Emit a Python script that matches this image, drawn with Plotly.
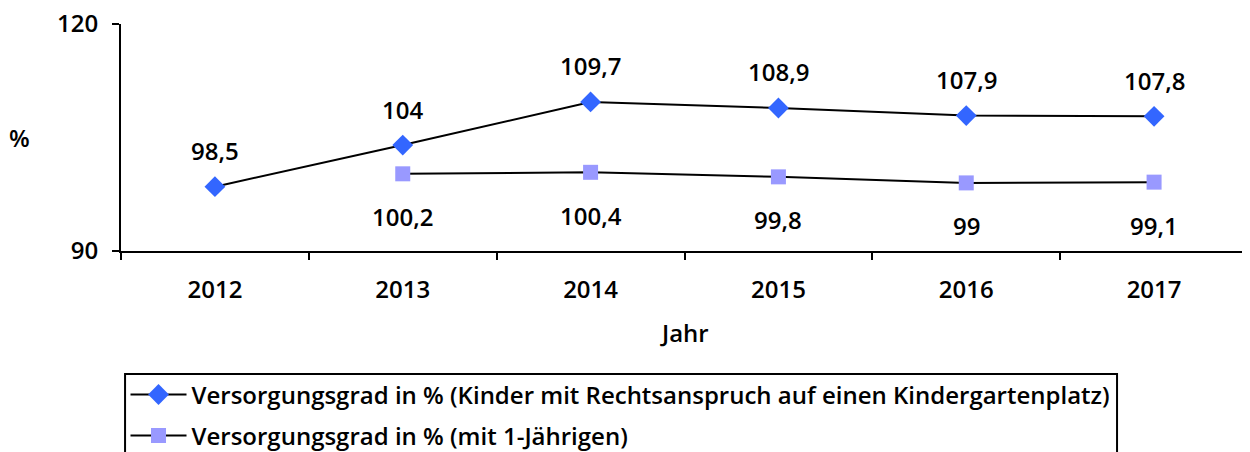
import plotly.graph_objects as go

years = ["2012", "2013", "2014", "2015", "2016", "2017"]
kiga_years = ["2012", "2013", "2014", "2015", "2016", "2017"]
kiga_values = [98.5, 104, 109.7, 108.9, 107.9, 107.8]
kiga_labels = ["98,5", "104", "109,7", "108,9", "107,9", "107,8"]
u1_years = ["2013", "2014", "2015", "2016", "2017"]
u1_values = [100.2, 100.4, 99.8, 99, 99.1]
u1_labels = ["100,2", "100,4", "99,8", "99", "99,1"]
y_ticks = [90, 120]

FONT = "Open Sans"
FS = 24
TXT = dict(family=FONT, size=FS, color="black", weight=600)

fig = go.Figure()
fig.add_trace(go.Scatter(
    x=kiga_years, y=kiga_values, mode="lines+markers",
    name="Versorgungsgrad in % (Kinder mit Rechtsanspruch auf einen Kindergartenplatz)",
    line=dict(color="black", width=2),
    marker=dict(symbol="diamond", size=16, color="#3366FF"),
    legend="legend",
))
fig.add_trace(go.Scatter(
    x=u1_years, y=u1_values, mode="lines+markers",
    name="Versorgungsgrad in % (mit 1-Jährigen)",
    line=dict(color="black", width=2),
    marker=dict(symbol="square", size=15, color="#9999FF"),
    legend="legend2",
))
for xv, yv, t in zip(kiga_years, kiga_values, kiga_labels):
    fig.add_annotation(x=years.index(xv), y=yv, text=t, showarrow=False, yshift=36, font=TXT)
for xv, yv, t in zip(u1_years, u1_values, u1_labels):
    fig.add_annotation(x=years.index(xv), y=yv, text=t, showarrow=False, yshift=-43, font=TXT)

fig.add_annotation(xref="paper", yref="paper", x=-0.09, y=0.5, text="%", showarrow=False,
                   font=TXT, xanchor="center", yanchor="middle")
fig.add_annotation(xref="paper", yref="paper", x=0.5, y=-0.357, text="Jahr", showarrow=False,
                   font=TXT, xanchor="center", yanchor="middle")

# legend frame
fig.add_shape(type="rect", xref="paper", yref="paper", x0=0.0036, x1=0.8838, y0=-0.97, y1=-0.542,
              line=dict(color="black", width=2), fillcolor="rgba(0,0,0,0)", layer="above")

leg_common = dict(xanchor="left", yanchor="middle", bgcolor="rgba(0,0,0,0)", borderwidth=0,
                  font=TXT, itemwidth=56)
fig.update_layout(
    width=1242, height=444,
    margin=dict(l=113, r=2, t=16, b=201, autoexpand=False),
    paper_bgcolor="white", plot_bgcolor="white",
    font=TXT,
    showlegend=True,
    legend=dict(x=0.004, y=-0.634, **leg_common),
    legend2=dict(x=0.004, y=-0.815, **leg_common),
    xaxis=dict(type="category", categoryorder="array", categoryarray=years,
               range=[-0.5, len(years) - 0.5], tickangle=0, automargin=False,
               showline=True, linecolor="black", linewidth=2, mirror=False,
               ticks="outside", tickson="boundaries", ticklen=7, tickwidth=2, tickcolor="black",
               ticklabelstandoff=16, ticklabeloverflow="allow", showgrid=False, zeroline=False),
    yaxis=dict(range=[y_ticks[0], y_ticks[-1]], tickvals=y_ticks, showline=True, linecolor="black",
               linewidth=2, ticks="outside", ticklen=7, tickwidth=2, tickcolor="black",
               automargin=False, ticklabelstandoff=9, ticklabeloverflow="allow",
               showgrid=False, zeroline=False),
)
fig.write_html("out.html")
